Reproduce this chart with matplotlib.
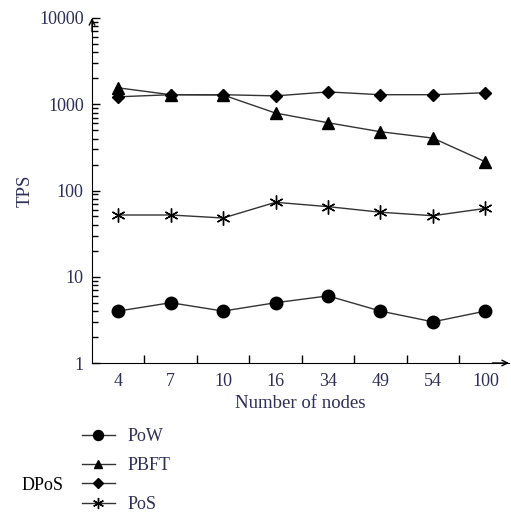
import matplotlib
matplotlib.use("Agg")
import matplotlib.pyplot as plt
from matplotlib.ticker import LogLocator, NullFormatter, FixedLocator

plt.rcParams['font.family'] = ['Liberation Serif', 'DejaVu Serif']

# data
nodes = ["4", "7", "10", "16", "34", "49", "54", "100"]
pow_tps = [4, 5, 4, 5, 6, 4, 3, 4]
pbft_tps = [1550, 1290, 1280, 790, 610, 480, 405, 215]
dpos_tps = [1220, 1290, 1290, 1250, 1390, 1290, 1290, 1360]
pos_tps = [52, 52, 48, 73, 65, 56, 51, 62]

txt_col = "#2d2f55"
line_col = "#333333"

fig = plt.figure(figsize=(5.11, 5.18), dpi=100)
ax = fig.add_axes([92/511, 1-363/518, 417/511, (363-18)/518])

xs = [i + 0.5 for i in range(len(nodes))]
l1, = ax.plot(xs, pow_tps, color=line_col, lw=1, marker='o', ms=9, mfc='k', mec='k', label='PoW')
l2, = ax.plot(xs, pbft_tps, color=line_col, lw=1, marker='^', ms=8, mfc='k', mec='k', label='PBFT')
l3, = ax.plot(xs, dpos_tps, color=line_col, lw=1, marker='D', ms=6, mfc='k', mec='k', label=' ')
l4, = ax.plot(xs, pos_tps, color=line_col, lw=1, marker=(6, 2, 0), ms=10, mfc='k', mec='k', mew=1, label='PoS')

ax.set_yscale('log')
ax.set_ylim(1, 10000)
ax.set_xlim(0, 7.95)

ax.spines['top'].set_visible(False)
ax.spines['right'].set_visible(False)

ax.xaxis.set_major_locator(FixedLocator(xs))
ax.set_xticklabels(nodes)
ax.xaxis.set_minor_locator(FixedLocator(range(1, 8)))
ax.tick_params(axis='x', which='major', length=0, labelsize=13, colors=txt_col, pad=7)
ax.tick_params(axis='x', which='minor', direction='in', length=6, width=1)

ax.yaxis.set_major_locator(LogLocator(base=10, numticks=10))
ax.yaxis.set_minor_locator(LogLocator(base=10, subs=range(2, 10), numticks=10))
ax.yaxis.set_minor_formatter(NullFormatter())
ax.set_yticks([1, 10, 100, 1000, 10000])
ax.set_yticklabels(["1", "10", "100", "1000", "10000"])
ax.tick_params(axis='y', which='major', direction='in', length=6, width=1, labelsize=13, labelcolor=txt_col, pad=6)
ax.tick_params(axis='y', which='minor', direction='in', length=4, width=1)

ax.set_xlabel("Number of nodes", fontsize=13.5, color=txt_col, labelpad=4)
ax.set_ylabel("TPS", fontsize=13.5, color=txt_col, labelpad=4)

# axis arrows
ax.annotate('', xy=(1.0, 0), xytext=(0.96, 0), xycoords='axes fraction',
            arrowprops=dict(arrowstyle='->', lw=1, color='k', shrinkA=0, shrinkB=0))
ax.annotate('', xy=(0, 1.0), xytext=(0, 0.96), xycoords='axes fraction',
            arrowprops=dict(arrowstyle='->', lw=1, color='k', shrinkA=0, shrinkB=0))

leg_kw = dict(loc='upper left', frameon=False, fontsize=13, handlelength=1.8,
              handletextpad=0.7, borderpad=0, borderaxespad=0, markerscale=0.8)
leg1 = fig.legend(handles=[l1], labels=['PoW'], bbox_to_anchor=(82/511, 1-428/518), **leg_kw)
leg2 = fig.legend(handles=[l2, l3, l4], labels=['PBFT', ' ', 'PoS'],
                  bbox_to_anchor=(82/511, 1-457/518), labelspacing=0.15, **leg_kw)
for leg in (leg1, leg2):
    for t in leg.get_texts():
        t.set_color(txt_col)
fig.text(22/511, 1-485/518, "DPoS", fontsize=13, color='k', va='center', ha='left')

fig.savefig("out.png", dpi=100)
